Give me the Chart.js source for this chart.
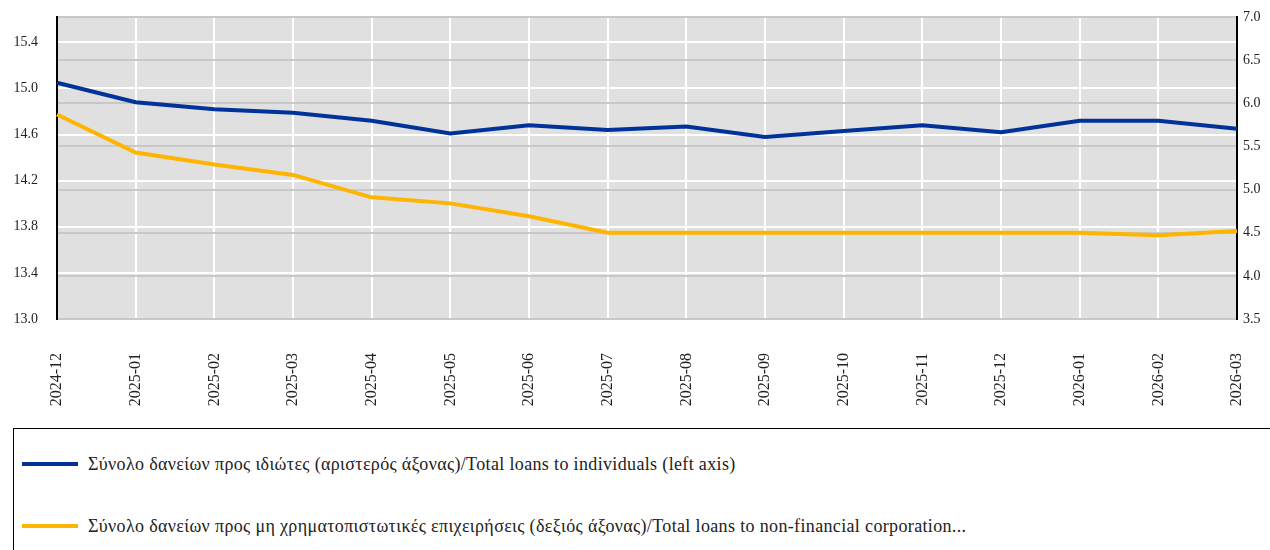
<!DOCTYPE html>
<html>
<head>
<meta charset="utf-8">
<script src="https://cdn.jsdelivr.net/npm/chart.js@4"></script>
<style>
  html, body { margin: 0; padding: 0; background: #fff; width: 1270px; height: 550px; overflow: hidden; }
  #wrap { position: absolute; left: 0; top: 0; width: 1270px; height: 425px; }
  #legend { position: absolute; left: 13px; top: 428px; width: 1300px; height: 140px; border: 1px solid #000; box-sizing: border-box;
            font-family: "Times New Roman", "Liberation Serif", "DejaVu Serif", serif; font-size: 18px; letter-spacing: 0.35px; color: #222; }
  .item { position: absolute; left: 8px; height: 20px; display: flex; align-items: center; white-space: nowrap; }
  .swatch { width: 56px; height: 4px; margin-right: 10px; }
</style>
</head>
<body>
<div id="wrap"><canvas id="c" width="1270" height="425"></canvas></div>
<div id="legend"></div>
<script>
const categories = ["2024-12","2025-01","2025-02","2025-03","2025-04","2025-05","2025-06","2025-07","2025-08","2025-09","2025-10","2025-11","2025-12","2026-01","2026-02","2026-03"];
const individuals = [15.05,14.88,14.82,14.79,14.72,14.61,14.68,14.64,14.67,14.58,14.63,14.68,14.62,14.72,14.72,14.65];
const corporations = [5.87,5.43,5.29,5.17,4.91,4.84,4.69,4.50,4.50,4.50,4.50,4.50,4.50,4.50,4.47,4.52];
const labelIndividuals = "Σύνολο δανείων προς ιδιώτες (αριστερός άξονας)/Total loans to individuals (left axis)";
const labelCorporations = "Σύνολο δανείων προς μη χρηματοπιστωτικές επιχειρήσεις (δεξιός άξονας)/Total loans to non-financial corporation...";
const leftTicks = [13.0,13.4,13.8,14.2,14.6,15.0,15.4];
const rightTicks = [3.5,4.0,4.5,5.0,5.5,6.0,6.5,7.0];

const FONT = "'Times New Roman', 'Liberation Serif', 'DejaVu Serif', serif";
const blue = "#003399", orange = "#FFB400";

const bgPlugin = {
  id: 'bg',
  beforeDraw(chart) {
    const {ctx, chartArea: a} = chart;
    ctx.save();
    ctx.fillStyle = "#e0e0e0";
    ctx.fillRect(a.left, a.top, a.right - a.left, a.bottom - a.top);
    ctx.strokeStyle = "#cfcfcf";
    ctx.lineWidth = 2;
    ctx.beginPath(); ctx.moveTo(a.left, a.top); ctx.lineTo(a.right, a.top); ctx.stroke();
    ctx.restore();
  }
};

function noPad(s) { s.paddingLeft = 0; s.paddingRight = 0; s.paddingTop = 0; s.paddingBottom = 0; }

new Chart(document.getElementById('c'), {
  type: 'line',
  data: {
    labels: categories,
    datasets: [
      { label: labelIndividuals, data: individuals, yAxisID: 'yL', borderColor: blue, backgroundColor: blue, borderWidth: 4, pointRadius: 0, tension: 0 },
      { label: labelCorporations, data: corporations, yAxisID: 'yR', borderColor: orange, backgroundColor: orange, borderWidth: 4, pointRadius: 0, tension: 0 }
    ]
  },
  options: {
    responsive: false,
    animation: false,
    layout: { padding: { top: 17, left: 0, right: 0, bottom: 0 } },
    plugins: { legend: { display: false }, tooltip: { enabled: false } },
    scales: {
      x: {
        offset: false,
        grid: { color: "#ffffff", lineWidth: 2, drawTicks: false },
        border: { color: "#c8c8c8", width: 1 },
        ticks: { maxRotation: 90, minRotation: 90, padding: 34, color: "#222", font: { family: FONT, size: 16 }, autoSkip: false },
        afterFit(s) { s.height = 425 - 319; noPad(s); }
      },
      yL: {
        position: 'left',
        min: 13.0, max: 15.62,
        afterBuildTicks(s) { s.ticks = leftTicks.map(v => ({ value: v })); },
        grid: { color: "#ffffff", lineWidth: 2, drawTicks: false },
        border: { color: "#000", width: 2 },
        ticks: { padding: 19, color: "#222", font: { family: FONT, size: 14 }, callback: v => Number(v).toFixed(1) },
        afterFit(s) { s.width = 57; noPad(s); }
      },
      yR: {
        position: 'right',
        min: 3.5, max: 7.0,
        afterBuildTicks(s) { s.ticks = rightTicks.map(v => ({ value: v })); },
        grid: { color: "#c8c8c8", lineWidth: 2, drawTicks: false },
        border: { color: "#000", width: 2 },
        ticks: { padding: 6, color: "#222", font: { family: FONT, size: 14 }, callback: v => Number(v).toFixed(1) },
        afterFit(s) { s.width = 1270 - 1237; noPad(s); }
      }
    }
  },
  plugins: [bgPlugin]
});

const legend = document.getElementById('legend');
[[labelIndividuals, blue, 25], [labelCorporations, orange, 87]].forEach(([t, c, top]) => {
  const d = document.createElement('div');
  d.className = 'item';
  d.style.top = top + 'px';
  d.innerHTML = '<span class="swatch" style="background:' + c + '"></span><span></span>';
  d.lastChild.textContent = t;
  legend.appendChild(d);
});
</script>
</body>
</html>
